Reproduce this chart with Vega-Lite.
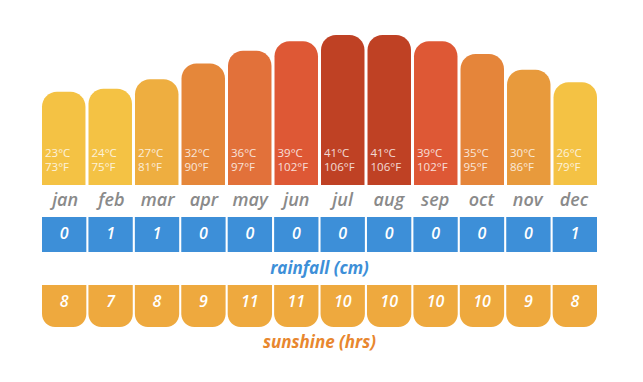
{
  "$schema": "https://vega.github.io/schema/vega-lite/v6.json",
  "padding": {"left": 42, "top": 35, "right": 0, "bottom": 0},
  "autosize": {"type": "pad"},
  "background": "white",
  "config": {"view": {"stroke": null}, "concat": {"spacing": 0}},
  "bounds": "flush",
  "spacing": 0,
  "data": {
    "values": [
      {"month": "jan", "c": 23, "lc": "23°C", "lf": "73°F", "rain": 0, "sun": 8},
      {"month": "feb", "c": 24, "lc": "24°C", "lf": "75°F", "rain": 1, "sun": 7},
      {"month": "mar", "c": 27, "lc": "27°C", "lf": "81°F", "rain": 1, "sun": 8},
      {"month": "apr", "c": 32, "lc": "32°C", "lf": "90°F", "rain": 0, "sun": 9},
      {"month": "may", "c": 36, "lc": "36°C", "lf": "97°F", "rain": 0, "sun": 11},
      {"month": "jun", "c": 39, "lc": "39°C", "lf": "102°F", "rain": 0, "sun": 11},
      {"month": "jul", "c": 41, "lc": "41°C", "lf": "106°F", "rain": 0, "sun": 10},
      {"month": "aug", "c": 41, "lc": "41°C", "lf": "106°F", "rain": 0, "sun": 10},
      {"month": "sep", "c": 39, "lc": "39°C", "lf": "102°F", "rain": 0, "sun": 10},
      {"month": "oct", "c": 35, "lc": "35°C", "lf": "95°F", "rain": 0, "sun": 10},
      {"month": "nov", "c": 30, "lc": "30°C", "lf": "86°F", "rain": 0, "sun": 9},
      {"month": "dec", "c": 26, "lc": "26°C", "lf": "79°F", "rain": 1, "sun": 8}
    ]
  },
  "vconcat": [
    {
      "width": 555,
      "height": 150,
      "encoding": {
        "x": {"field": "month", "type": "nominal", "sort": null, "axis": null,
              "scale": {"paddingInner": 0.065, "paddingOuter": 0}}
      },
      "layer": [
        {
          "mark": {"type": "bar", "cornerRadiusTopLeft": 15, "cornerRadiusTopRight": 15},
          "encoding": {
            "y": {"field": "c", "type": "quantitative", "axis": null,
                  "scale": {"domain": [-6.5, 41], "zero": false, "nice": false}},
            "y2": {"datum": -6.5},
            "color": {"field": "c", "type": "quantitative", "legend": null,
                      "scale": {"domain": [23, 26, 27, 30, 32, 35, 36, 39, 41],
                                "range": ["#F4C244", "#F4C244", "#EEAE40", "#E89A3C", "#E5873A", "#E5853A", "#E2713A", "#DE5835", "#BF4124"]}}
          }
        },
        {
          "mark": {"type": "text", "align": "left", "baseline": "middle", "dx": 3, "y": 119,
                   "font": "Open Sans", "fontSize": 11.5, "color": "#ffffff", "opacity": 0.8},
          "encoding": {"x": {"field": "month", "type": "nominal", "sort": null, "bandPosition": 0}, "text": {"field": "lc"}}
        },
        {
          "mark": {"type": "text", "align": "left", "baseline": "middle", "dx": 3, "y": 132.5,
                   "font": "Open Sans", "fontSize": 11.5, "color": "#ffffff", "opacity": 0.8},
          "encoding": {"x": {"field": "month", "type": "nominal", "sort": null, "bandPosition": 0}, "text": {"field": "lf"}}
        }
      ]
    },
    {
      "width": 555,
      "height": 32,
      "mark": {"type": "text", "baseline": "middle", "y": 16, "font": "Open Sans", "fontStyle": "italic",
               "fontWeight": 600, "fontSize": 18, "color": "#8a8a8a"},
      "encoding": {
        "x": {"field": "month", "type": "nominal", "sort": null, "axis": null,
              "scale": {"paddingInner": 0.065, "paddingOuter": 0}},
        "text": {"field": "month"}
      }
    },
    {
      "width": 555,
      "height": 35,
      "encoding": {
        "x": {"field": "month", "type": "nominal", "sort": null, "axis": null,
              "scale": {"paddingInner": 0.045, "paddingOuter": 0}}
      },
      "layer": [
        {"mark": {"type": "bar", "color": "#3D8FD8"}, "encoding": {}},
        {"mark": {"type": "text", "baseline": "middle", "y": 17, "font": "Open Sans", "fontStyle": "italic",
                  "fontWeight": 600, "fontSize": 16, "color": "#ffffff"},
         "encoding": {"text": {"field": "rain"}}}
      ]
    },
    {
      "width": 555,
      "height": 33,
      "data": {"values": [{"label": "rainfall (cm)"}]},
      "mark": {"type": "text", "baseline": "middle", "y": 17, "font": "Open Sans", "fontStyle": "italic",
               "fontWeight": 700, "fontSize": 17, "color": "#3D8FD8"},
      "encoding": {"text": {"field": "label"}}
    },
    {
      "width": 555,
      "height": 42,
      "encoding": {
        "x": {"field": "month", "type": "nominal", "sort": null, "axis": null,
              "scale": {"paddingInner": 0.045, "paddingOuter": 0}}
      },
      "layer": [
        {"mark": {"type": "bar", "color": "#EEA93E", "cornerRadiusBottomLeft": 13, "cornerRadiusBottomRight": 13}, "encoding": {}},
        {"mark": {"type": "text", "baseline": "middle", "y": 17, "font": "Open Sans", "fontStyle": "italic",
                  "fontWeight": 600, "fontSize": 16, "color": "#ffffff"},
         "encoding": {"text": {"field": "sun"}}}
      ]
    },
    {
      "width": 555,
      "height": 32,
      "data": {"values": [{"label": "sunshine (hrs)"}]},
      "mark": {"type": "text", "baseline": "middle", "y": 16, "font": "Open Sans", "fontStyle": "italic",
               "fontWeight": 700, "fontSize": 17, "color": "#E8872F"},
      "encoding": {"text": {"field": "label"}}
    }
  ]
}
